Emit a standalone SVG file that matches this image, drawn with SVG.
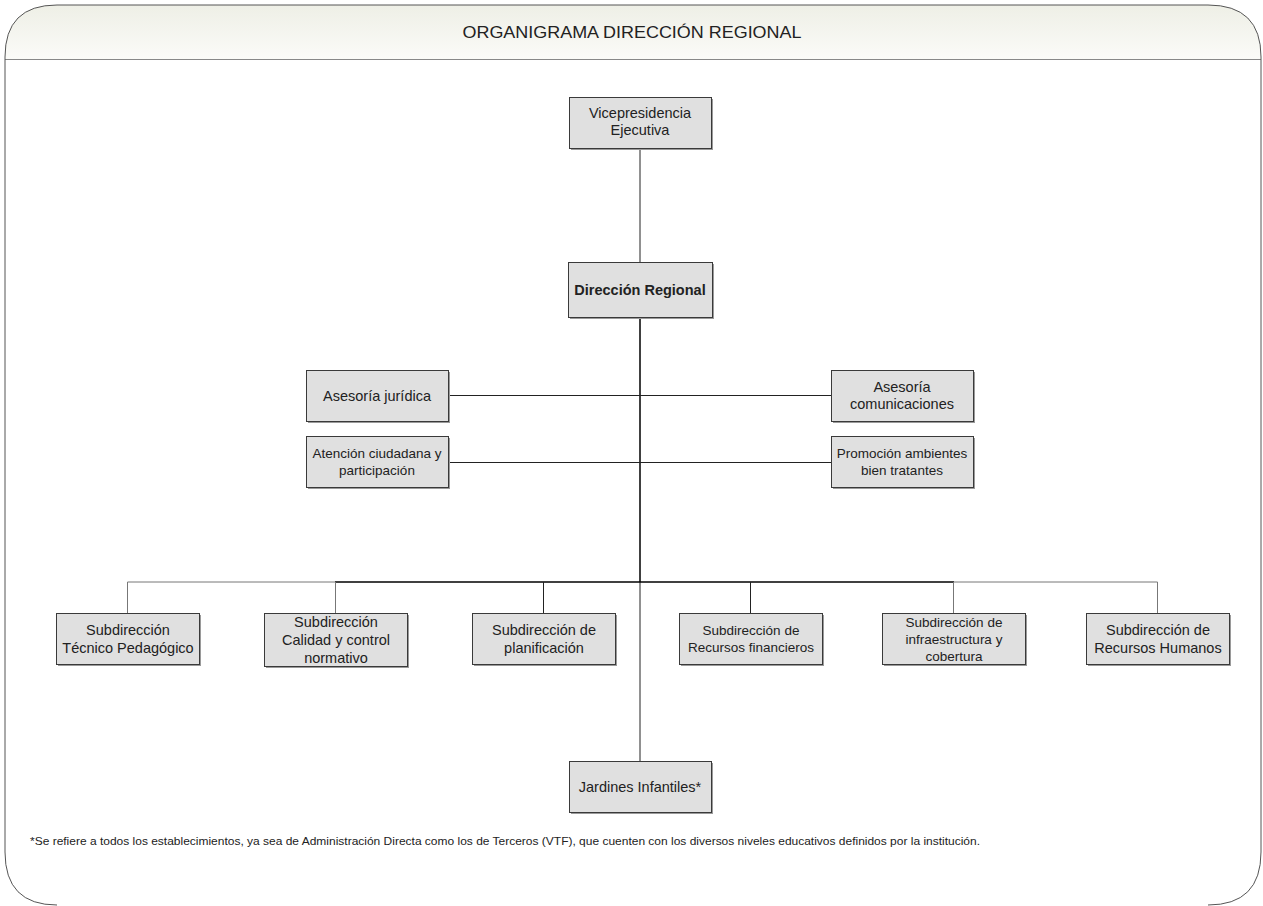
<svg xmlns="http://www.w3.org/2000/svg" width="1263" height="906" viewBox="0 0 1263 906">
<defs>
<linearGradient id="hdr" x1="0" y1="0" x2="0" y2="1">
<stop offset="0" stop-color="#eeefe6"/>
<stop offset="1" stop-color="#fbfbf8"/>
</linearGradient>
<style>
.box{fill:#e0e0e0;stroke:#3a3a3a;stroke-width:1}
.sh{fill:#9a9a9a}
.t{font-family:"Liberation Sans",Arial,sans-serif;font-size:14.5px;fill:#222;text-anchor:middle}
.s{font-size:13.5px}
.b{font-weight:bold}
.ln{stroke:#222;stroke-width:1;fill:none}
.lt{stroke:#000;stroke-width:1.5;fill:none}
.lg{stroke:#777;stroke-width:1;fill:none}
</style>
</defs>
<rect width="1263" height="906" fill="#fff"/>
<g id="frame">
<path d="M5,59 L5,57 Q5,5 57,5 L1208,5 Q1261,5 1261,57 L1261,59 Z" fill="url(#hdr)"/>
<path d="M5,59 L5,57 Q5,5 57,5 L1208,5 Q1261,5 1261,57 L1261,59" fill="none" stroke="#555" stroke-width="1"/>
<line x1="5" y1="59.5" x2="1261" y2="59.5" stroke="#888" stroke-width="1.2"/>
<path d="M5,59 L5,852 Q5,905 57,905 M1208,905 Q1261,905 1261,852 L1261,59" fill="none" stroke="#555" stroke-width="1"/>
<text x="632" y="38" class="t" style="font-size:17px" textLength="339" lengthAdjust="spacingAndGlyphs">ORGANIGRAMA DIRECCIÓN REGIONAL</text>
</g>
<g id="connectors">
<line class="ln" x1="640" y1="148" x2="640" y2="262"/>
<line class="lt" x1="640" y1="317" x2="640" y2="582"/>
<line class="ln" x1="640" y1="582" x2="640" y2="761"/>
<line class="ln" x1="448" y1="395.5" x2="831" y2="395.5"/>
<line class="ln" x1="448" y1="462.5" x2="831" y2="462.5"/>
<line class="lt" x1="335" y1="582" x2="954" y2="582"/>
<line class="lg" x1="127.5" y1="582" x2="335" y2="582"/>
<line class="lg" x1="954" y1="582" x2="1157.5" y2="582"/>
<line class="lg" x1="127.5" y1="582" x2="127.5" y2="613"/>
<line class="lg" x1="335.5" y1="582" x2="335.5" y2="613"/>
<line class="ln" x1="543.5" y1="582" x2="543.5" y2="613"/>
<line class="ln" x1="750.5" y1="582" x2="750.5" y2="613"/>
<line class="lg" x1="953.5" y1="582" x2="953.5" y2="613"/>
<line class="lg" x1="1157.5" y1="582" x2="1157.5" y2="613"/>
</g>
<g id="vicepresidencia">
<rect class="sh" x="571" y="99" width="142" height="51"/>
<rect class="box" x="569.5" y="97.5" width="142" height="51"/>
<text class="t" x="640" y="118">Vicepresidencia</text>
<text class="t" x="640" y="135">Ejecutiva</text>
</g>
<g id="direccion">
<rect class="sh" x="570" y="264" width="144" height="55"/>
<rect class="box" x="568.5" y="262.5" width="144" height="55"/>
<text class="t b" x="640" y="295">Dirección Regional</text>
</g>
<g id="asesoria-juridica">
<rect class="sh" x="308" y="372" width="142" height="51"/>
<rect class="box" x="306.5" y="370.5" width="142" height="51"/>
<text class="t" x="377" y="401">Asesoría jurídica</text>
</g>
<g id="asesoria-comunicaciones">
<rect class="sh" x="833" y="372" width="142" height="51"/>
<rect class="box" x="831.5" y="370.5" width="142" height="51"/>
<text class="t" x="902" y="392">Asesoría</text>
<text class="t" x="902" y="409">comunicaciones</text>
</g>
<g id="atencion">
<rect class="sh" x="308" y="438" width="142" height="51"/>
<rect class="box" x="306.5" y="436.5" width="142" height="51"/>
<text class="t s" x="377" y="458">Atención ciudadana y</text>
<text class="t s" x="377" y="475">participación</text>
</g>
<g id="promocion">
<rect class="sh" x="833" y="438" width="142" height="51"/>
<rect class="box" x="831.5" y="436.5" width="142" height="51"/>
<text class="t s" x="902" y="458">Promoción ambientes</text>
<text class="t s" x="902" y="475">bien tratantes</text>
</g>
<g id="sub-tecnico">
<rect class="sh" x="58" y="615" width="143" height="51"/>
<rect class="box" x="56.5" y="613.5" width="143" height="51"/>
<text class="t" x="128" y="635">Subdirección</text>
<text class="t" x="128" y="653">Técnico Pedagógico</text>
</g>
<g id="sub-calidad">
<rect class="sh" x="266" y="615" width="143" height="53"/>
<rect class="box" x="264.5" y="613.5" width="143" height="53"/>
<text class="t" x="336" y="627">Subdirección</text>
<text class="t" x="336" y="645">Calidad y control</text>
<text class="t" x="336" y="663">normativo</text>
</g>
<g id="sub-planificacion">
<rect class="sh" x="474" y="615" width="143" height="51"/>
<rect class="box" x="472.5" y="613.5" width="143" height="51"/>
<text class="t" x="544" y="635">Subdirección de</text>
<text class="t" x="544" y="653">planificación</text>
</g>
<g id="sub-financieros">
<rect class="sh" x="681" y="615" width="143" height="51"/>
<rect class="box" x="679.5" y="613.5" width="143" height="51"/>
<text class="t s" x="751" y="635">Subdirección de</text>
<text class="t s" x="751" y="652">Recursos financieros</text>
</g>
<g id="sub-infraestructura">
<rect class="sh" x="884" y="615" width="143" height="51"/>
<rect class="box" x="882.5" y="613.5" width="143" height="51"/>
<text class="t s" x="954" y="627">Subdirección de</text>
<text class="t s" x="954" y="644">infraestructura y</text>
<text class="t s" x="954" y="661">cobertura</text>
</g>
<g id="sub-rrhh">
<rect class="sh" x="1088" y="615" width="143" height="51"/>
<rect class="box" x="1086.5" y="613.5" width="143" height="51"/>
<text class="t" x="1158" y="635">Subdirección de</text>
<text class="t" x="1158" y="653">Recursos Humanos</text>
</g>
<g id="jardines">
<rect class="sh" x="571" y="763" width="142" height="51"/>
<rect class="box" x="569.5" y="761.5" width="142" height="51"/>
<text class="t" x="640" y="792">Jardines Infantiles*</text>
</g>
<text x="30" y="845" style="font-family:'Liberation Sans',Arial,sans-serif;font-size:11px;fill:#222" textLength="950" lengthAdjust="spacingAndGlyphs">*Se refiere a todos los establecimientos, ya sea de Administración Directa como los de Terceros (VTF), que cuenten con los diversos niveles educativos definidos por la institución.</text>
</svg>
